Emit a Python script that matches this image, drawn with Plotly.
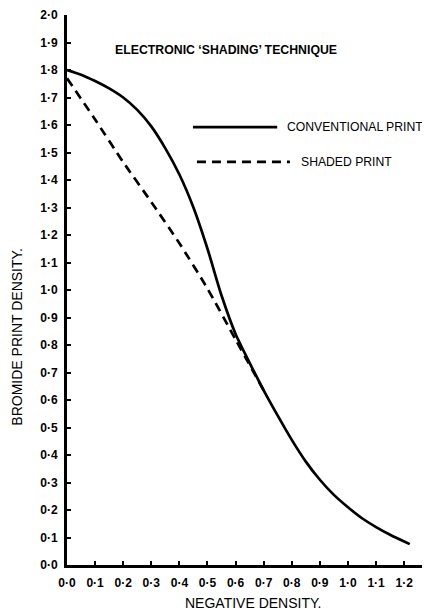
import plotly.graph_objects as go

# Data
conv_x = [0.0, 0.05, 0.1, 0.15, 0.2, 0.25, 0.3, 0.35, 0.4, 0.45, 0.5, 0.55, 0.6, 0.65, 0.7,
          0.75, 0.8, 0.85, 0.9, 0.95, 1.0, 1.05, 1.1, 1.15, 1.22]
conv_y = [1.80, 1.783, 1.76, 1.733, 1.70, 1.655, 1.595, 1.515, 1.42, 1.30, 1.15, 0.98, 0.84, 0.735, 0.635,
          0.543, 0.455, 0.376, 0.31, 0.255, 0.21, 0.17, 0.138, 0.11, 0.076]

shaded_x = [0.0, 0.1, 0.2, 0.3, 0.4, 0.5, 0.6, 0.7]
shaded_y = [1.77, 1.62, 1.465, 1.32, 1.17, 1.005, 0.82, 0.635]

x_ticks = [round(i * 0.1, 1) for i in range(13)]
x_ticktext = ["0·0", "0·1", "0·2", "0·3", "0·4", "0·5", "0·6", "0·7", "0·8", "0·9", "1·0", "1·1", "1·2"]
y_ticks = [round(i * 0.1, 1) for i in range(21)]
y_ticktext = ["0·0", "0·1", "0·2", "0·3", "0·4", "0·5", "0·6", "0·7", "0·8", "0·9", "1·0",
              "1·1", "1·2", "1·3", "1·4", "1·5", "1·6", "1·7", "1·8", "1·9", "2·0"]

FONT = "Liberation Sans, Arial, sans-serif"

fig = go.Figure()
fig.add_trace(go.Scatter(x=conv_x, y=conv_y, mode="lines",
                         line=dict(color="black", width=2.7, shape="spline", smoothing=0.7),
                         name="CONVENTIONAL PRINT", showlegend=False, hoverinfo="skip"))
fig.add_trace(go.Scatter(x=shaded_x, y=shaded_y, mode="lines",
                         line=dict(color="black", width=2.7, dash="9px,6px", shape="spline", smoothing=0.6),
                         name="SHADED PRINT", showlegend=False, hoverinfo="skip"))

# page has an 8px body margin: the figure is 422x602 placed at (8, 8)
fig.update_layout(
    width=422, height=602,
    margin=dict(l=59, r=0, t=7, b=45),
    paper_bgcolor="white", plot_bgcolor="white",
    font=dict(family=FONT, color="black"),
    xaxis=dict(range=[0, 1.292], tickvals=x_ticks, ticktext=x_ticktext,
               showgrid=False, zeroline=False, showline=True, linecolor="black", linewidth=3,
               ticks="inside", ticklen=4, tickwidth=1.5, tickcolor="black",
               tickfont=dict(family=FONT, size=12, weight="bold", color="black"),
               ticklabelstandoff=5, fixedrange=True),
    yaxis=dict(range=[0, 2.0], tickvals=y_ticks, ticktext=y_ticktext,
               showgrid=False, zeroline=False, showline=True, linecolor="black", linewidth=3,
               ticks="inside", ticklen=4, tickwidth=1.5, tickcolor="black",
               tickfont=dict(family=FONT, size=12, weight="bold", color="black"),
               ticklabelstandoff=4, fixedrange=True),
    shapes=[
        dict(type="line", xref="paper", yref="paper", x0=0.347, x1=0.579, y0=0.796, y1=0.796,
             line=dict(color="black", width=2.7)),
        dict(type="line", xref="paper", yref="paper", x0=0.358, x1=0.614, y0=0.733, y1=0.733,
             line=dict(color="black", width=2.7, dash="9px,6px")),
    ],
    annotations=[
        dict(text="ELECTRONIC ‘SHADING’ TECHNIQUE", xref="paper", yref="paper", x=0.127, y=0.936,
             xanchor="left", yanchor="middle", showarrow=False,
             font=dict(family=FONT, size=12.3, weight="bold", color="black")),
        dict(text="CONVENTIONAL PRINT", xref="paper", yref="paper", x=0.6, y=0.796,
             xanchor="left", yanchor="middle", showarrow=False,
             font=dict(family=FONT, size=12.2, color="black")),
        dict(text="SHADED PRINT", xref="paper", yref="paper", x=0.639, y=0.733,
             xanchor="left", yanchor="middle", showarrow=False,
             font=dict(family=FONT, size=12.2, color="black")),
        dict(text="NEGATIVE DENSITY.", xref="paper", yref="paper", x=0.512, y=-0.069,
             xanchor="center", yanchor="middle", showarrow=False,
             font=dict(family=FONT, size=14, color="black")),
        dict(text="BROMIDE PRINT DENSITY.", xref="paper", yref="paper", x=-0.138, y=0.415,
             xanchor="center", yanchor="middle", showarrow=False, textangle=-90,
             font=dict(family=FONT, size=14, color="black")),
    ],
)

fig.write_html("out.html")
